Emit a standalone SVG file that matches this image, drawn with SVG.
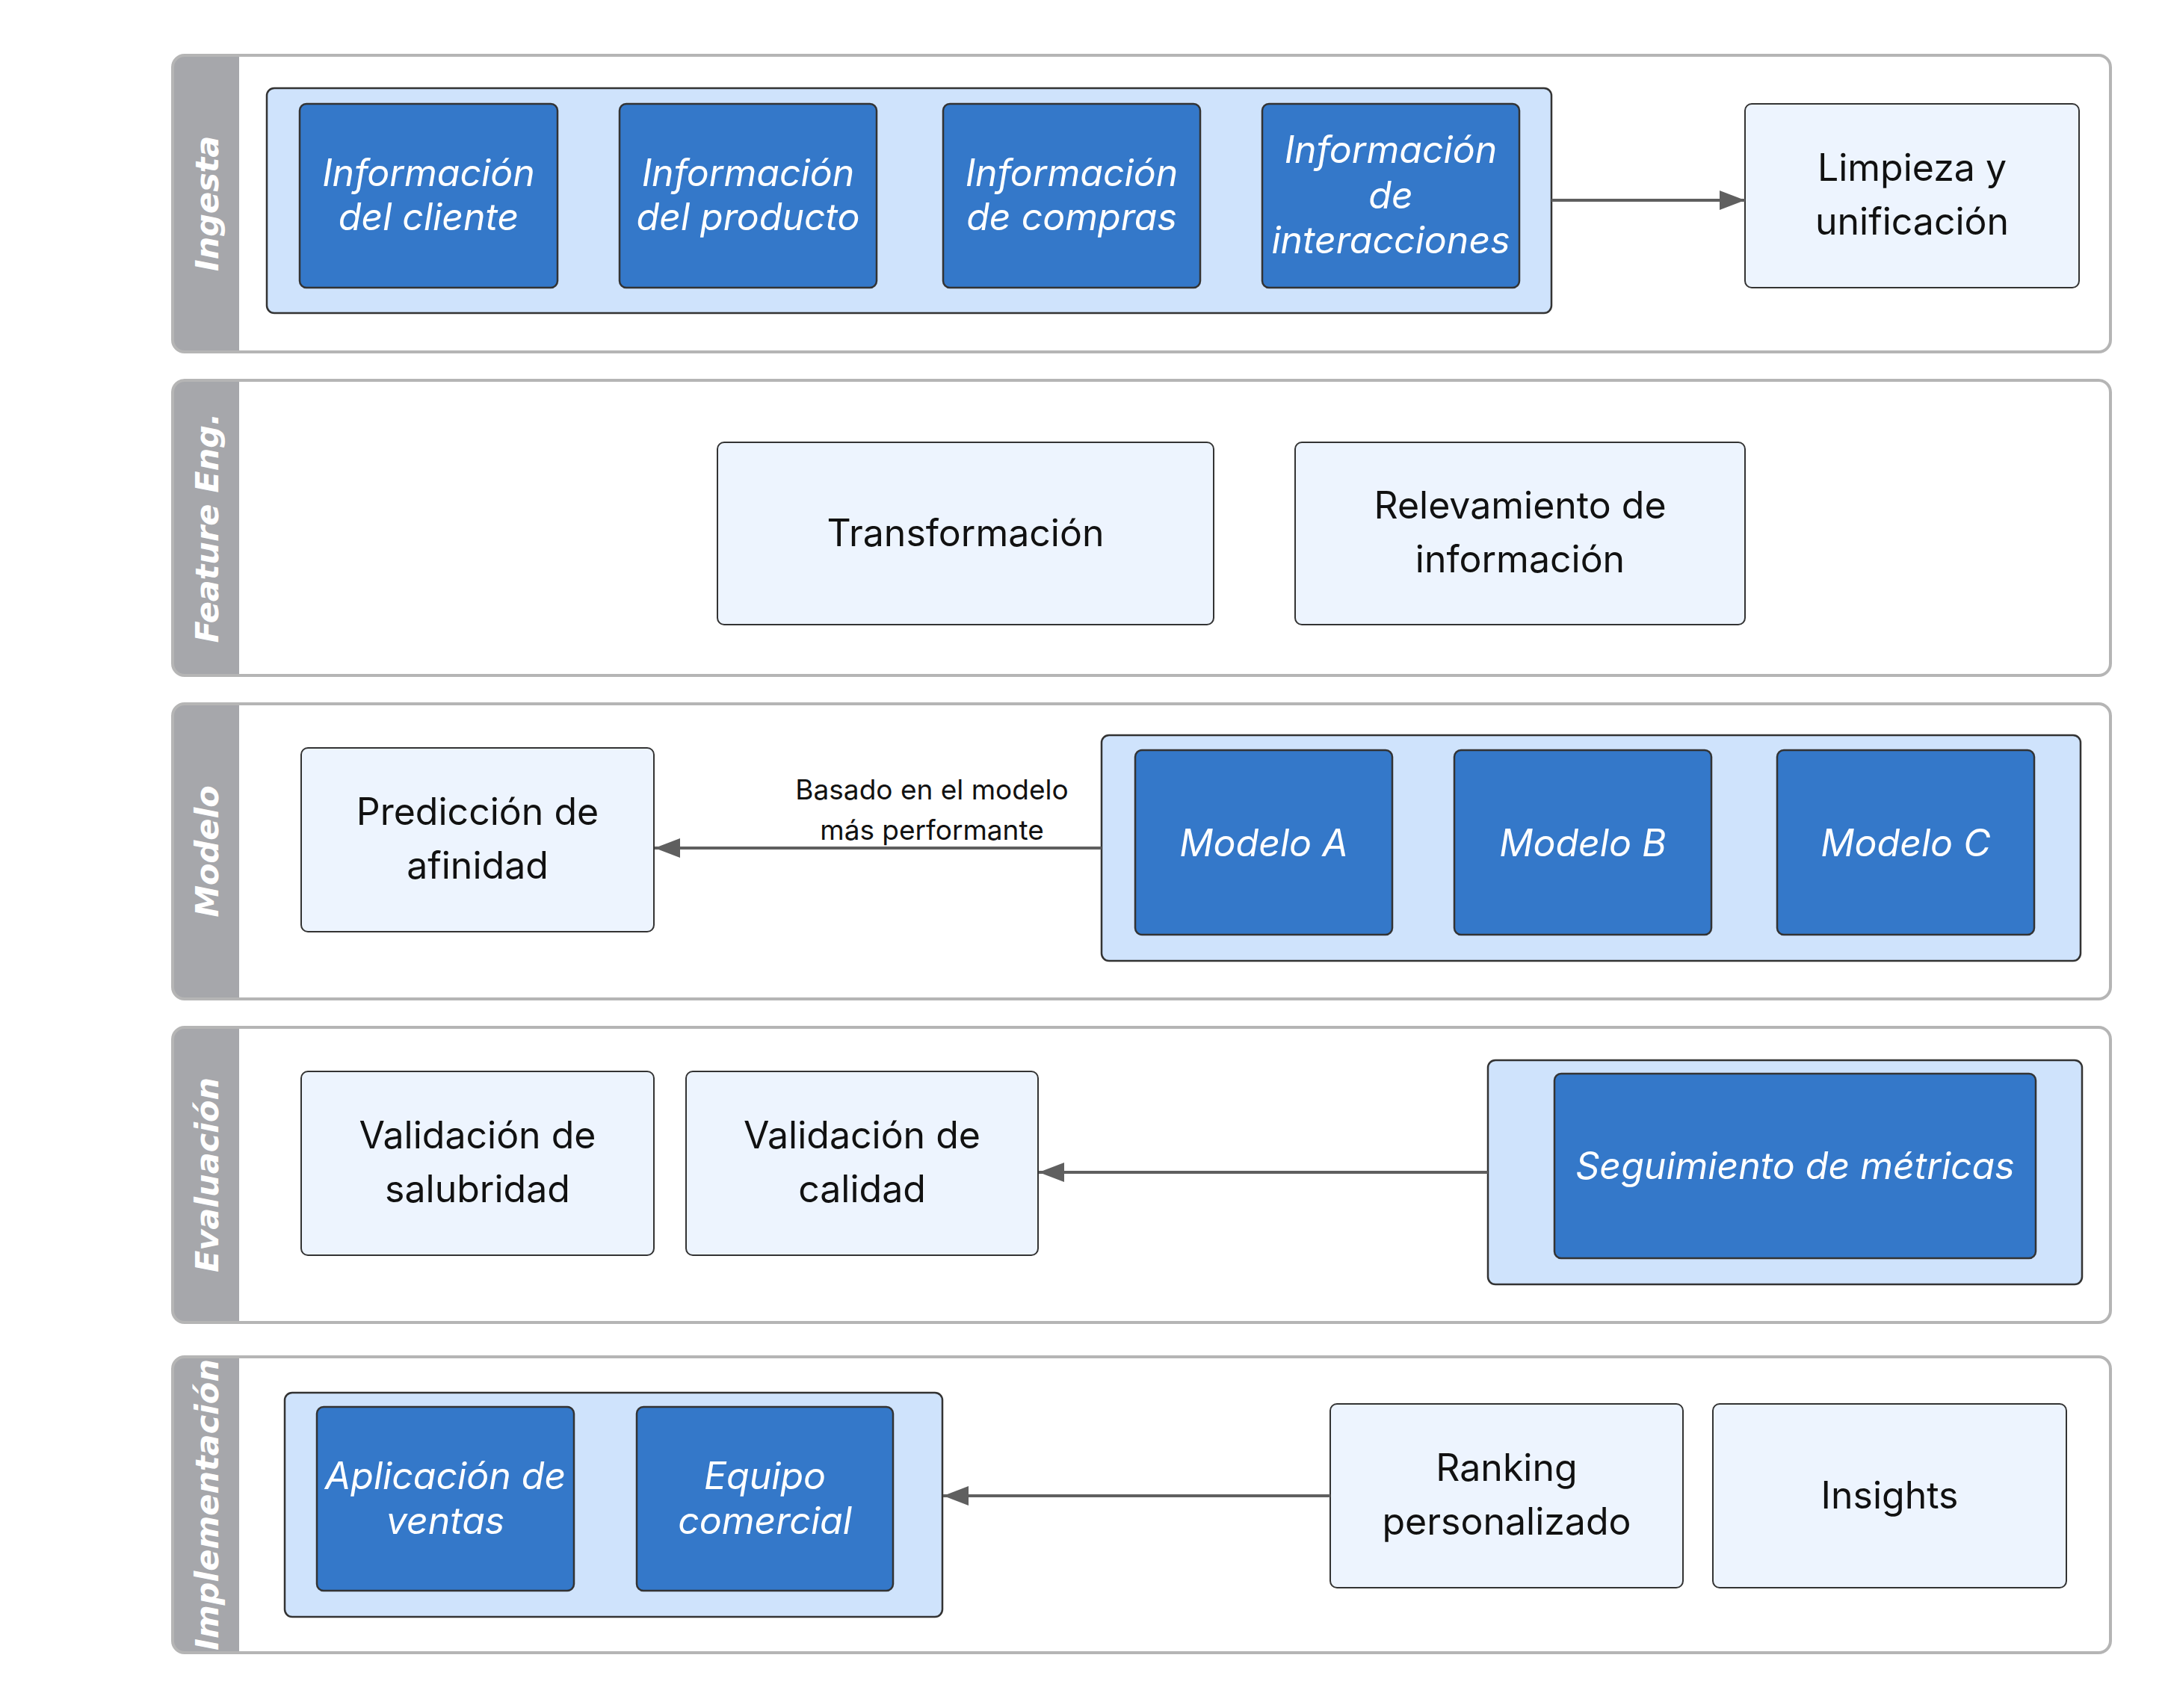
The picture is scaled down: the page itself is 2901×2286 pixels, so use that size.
<svg xmlns="http://www.w3.org/2000/svg" width="2901" height="2286" viewBox="0 0 2901 2286">
<style>
.lane{fill:none;stroke:#b5b5b5;stroke-width:4}
.strip{fill:#a6a7ab}
.lt{font-family:"DejaVu Sans",sans-serif;font-weight:bold;font-style:italic;font-size:43px;fill:#ffffff;text-anchor:middle}
.grp{fill:#cfe3fc;stroke:#333333;stroke-width:2.5}
.dk{fill:#3478c9;stroke:#333333;stroke-width:2.5}
.lt2{fill:#edf4fe;stroke:#333333;stroke-width:2}
.wt{font-family:Inter,"Noto Sans",sans-serif;font-style:italic;font-size:50px;fill:#ffffff;text-anchor:middle;dominant-baseline:central}
.bt{font-family:Inter,"Noto Sans",sans-serif;font-size:50px;fill:#111111;text-anchor:middle;dominant-baseline:central}
.el{font-family:Inter,"Noto Sans",sans-serif;font-size:37px;fill:#111111;text-anchor:middle;dominant-baseline:central}
.cn{fill:none;stroke:#5f5f5f;stroke-width:4;marker-end:url(#ah)}
</style>
<defs>
<marker id="ah" markerUnits="userSpaceOnUse" markerWidth="36" markerHeight="26" refX="34" refY="13" orient="auto">
<path d="M0,0 L34,13 L0,26 Z" fill="#5f5f5f"/>
</marker>
</defs>
<rect width="2901" height="2286" fill="#ffffff"/>

<g id="lane-ingesta">
<path class="strip" d="M320 74 H247 Q231 74 231 90 V455 Q231 471 247 471 H320 Z"/>
<rect class="lane" x="231" y="74" width="2593" height="397" rx="16"/>
<text class="lt" transform="translate(292 272.5) rotate(-90)">Ingesta</text>
</g>
<g id="lane-feature">
<path class="strip" d="M320 509 H247 Q231 509 231 525 V888 Q231 904 247 904 H320 Z"/>
<rect class="lane" x="231" y="509" width="2593" height="395" rx="16"/>
<text class="lt" transform="translate(292 706.5) rotate(-90)">Feature Eng.</text>
</g>
<g id="lane-modelo">
<path class="strip" d="M320 942 H247 Q231 942 231 958 V1321 Q231 1337 247 1337 H320 Z"/>
<rect class="lane" x="231" y="942" width="2593" height="395" rx="16"/>
<text class="lt" transform="translate(292 1139.5) rotate(-90)">Modelo</text>
</g>
<g id="lane-evaluacion">
<path class="strip" d="M320 1375 H247 Q231 1375 231 1391 V1754 Q231 1770 247 1770 H320 Z"/>
<rect class="lane" x="231" y="1375" width="2593" height="395" rx="16"/>
<text class="lt" transform="translate(292 1572.5) rotate(-90)">Evaluación</text>
</g>
<g id="lane-implementacion">
<path class="strip" d="M320 1816 H247 Q231 1816 231 1832 V2196 Q231 2212 247 2212 H320 Z"/>
<rect class="lane" x="231" y="1816" width="2593" height="396" rx="16"/>
<text class="lt" transform="translate(292 2014) rotate(-90)">Implementación</text>
</g>

<g id="grp-fuentes">
<rect class="grp" x="357" y="118" width="1719" height="301" rx="10"/>
</g>
<g id="n-cliente">
<rect class="dk" x="401" y="139" width="345" height="246" rx="9"/>
<text class="wt" x="573.5" y="231">Información</text>
<text class="wt" x="573.5" y="290">del cliente</text>
</g>
<g id="n-producto">
<rect class="dk" x="829" y="139" width="344" height="246" rx="9"/>
<text class="wt" x="1001" y="231">Información</text>
<text class="wt" x="1001" y="290">del producto</text>
</g>
<g id="n-compras">
<rect class="dk" x="1262" y="139" width="344" height="246" rx="9"/>
<text class="wt" x="1434" y="231">Información</text>
<text class="wt" x="1434" y="290">de compras</text>
</g>
<g id="n-interacciones">
<rect class="dk" x="1689" y="139" width="344" height="246" rx="9"/>
<text class="wt" x="1861" y="200">Información</text>
<text class="wt" x="1861" y="261">de</text>
<text class="wt" x="1861" y="321">interacciones</text>
</g>
<g id="n-limpieza">
<rect class="lt2" x="2335" y="139" width="447" height="246" rx="9"/>
<text class="bt" x="2558.5" y="224">Limpieza y</text>
<text class="bt" x="2558.5" y="296">unificación</text>
</g>

<g id="n-transformacion">
<rect class="lt2" x="960" y="592" width="664" height="244" rx="9"/>
<text class="bt" x="1292" y="713">Transformación</text>
</g>
<g id="n-relevamiento">
<rect class="lt2" x="1733" y="592" width="602" height="244" rx="9"/>
<text class="bt" x="2034" y="676">Relevamiento de</text>
<text class="bt" x="2034" y="748">información</text>
</g>

<g id="n-prediccion">
<rect class="lt2" x="403" y="1001" width="472" height="246" rx="9"/>
<text class="bt" x="639" y="1086">Predicción de</text>
<text class="bt" x="639" y="1158">afinidad</text>
</g>
<g id="grp-modelos">
<rect class="grp" x="1474" y="984" width="1310" height="302" rx="10"/>
</g>
<g id="n-modelo-a">
<rect class="dk" x="1519" y="1004" width="344" height="247" rx="9"/>
<text class="wt" x="1691" y="1128">Modelo A</text>
</g>
<g id="n-modelo-b">
<rect class="dk" x="1946" y="1004" width="344" height="247" rx="9"/>
<text class="wt" x="2118" y="1128">Modelo B</text>
</g>
<g id="n-modelo-c">
<rect class="dk" x="2378" y="1004" width="344" height="247" rx="9"/>
<text class="wt" x="2550" y="1128">Modelo C</text>
</g>

<g id="n-salubridad">
<rect class="lt2" x="403" y="1434" width="472" height="246" rx="9"/>
<text class="bt" x="639" y="1519">Validación de</text>
<text class="bt" x="639" y="1591">salubridad</text>
</g>
<g id="n-calidad">
<rect class="lt2" x="918" y="1434" width="471" height="246" rx="9"/>
<text class="bt" x="1153.5" y="1519">Validación de</text>
<text class="bt" x="1153.5" y="1591">calidad</text>
</g>
<g id="grp-metricas">
<rect class="grp" x="1991" y="1419" width="795" height="300" rx="10"/>
</g>
<g id="n-seguimiento">
<rect class="dk" x="2080" y="1437" width="644" height="247" rx="9"/>
<text class="wt" x="2402" y="1560">Seguimiento de métricas</text>
</g>

<g id="grp-destinos">
<rect class="grp" x="381" y="1864" width="880" height="300" rx="10"/>
</g>
<g id="n-aplicacion">
<rect class="dk" x="424" y="1883" width="344" height="246" rx="9"/>
<text class="wt" x="596" y="1975">Aplicación de</text>
<text class="wt" x="596" y="2035">ventas</text>
</g>
<g id="n-equipo">
<rect class="dk" x="852" y="1883" width="343" height="246" rx="9"/>
<text class="wt" x="1023.5" y="1975">Equipo</text>
<text class="wt" x="1023.5" y="2035">comercial</text>
</g>
<g id="n-ranking">
<rect class="lt2" x="1780" y="1879" width="472" height="246" rx="9"/>
<text class="bt" x="2016" y="1964">Ranking</text>
<text class="bt" x="2016" y="2036">personalizado</text>
</g>
<g id="n-insights">
<rect class="lt2" x="2292" y="1879" width="473" height="246" rx="9"/>
<text class="bt" x="2528.5" y="2001">Insights</text>
</g>

<g id="connectors">
<path class="cn" d="M2076 268 H2335"/>
<path class="cn" d="M1474 1135 H876"/>
<text class="el" x="1247" y="1056">Basado en el modelo</text>
<text class="el" x="1247" y="1110">más performante</text>
<path class="cn" d="M1991 1569 H1390"/>
<path class="cn" d="M1780 2002 H1262"/>
</g>
</svg>
